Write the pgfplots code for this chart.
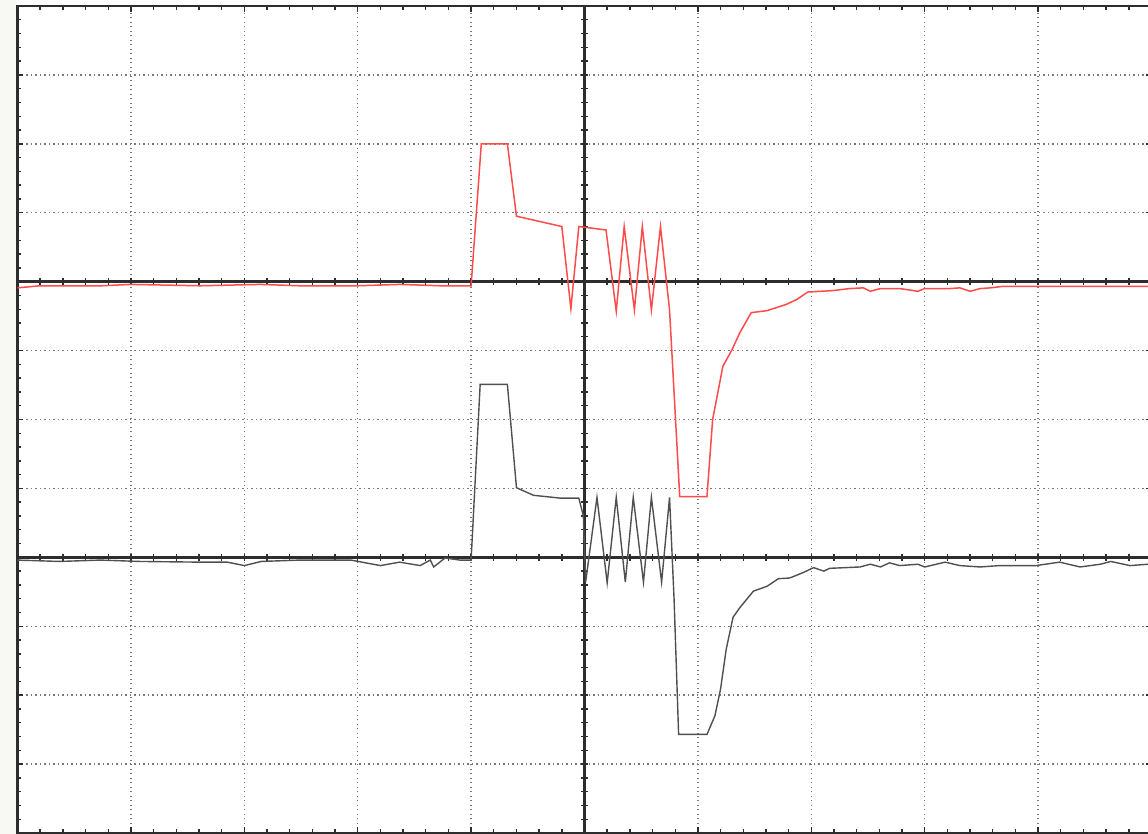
\documentclass[border=0pt]{standalone}
\usepackage{pgfplots}
\pgfplotsset{compat=1.18}
\definecolor{cream}{RGB}{249,249,244}
\definecolor{tracered}{RGB}{255,75,75}
\definecolor{tracegray}{RGB}{80,80,80}
\definecolor{frame}{RGB}{45,45,45}
\definecolor{gridc}{RGB}{120,120,120}

\pgfplotstableread{
x y
0.00 7.91
0.20 7.94
0.74 7.94
1.00 7.96
1.61 7.94
2.14 7.96
2.49 7.94
3.00 7.94
3.37 7.96
3.73 7.94
4.00 7.94
4.09 10.00
4.32 10.00
4.40 8.95
4.80 8.80
4.88 7.61
4.95 8.80
5.19 8.75
5.28 7.57
5.35 8.80
5.44 7.59
5.51 8.80
5.59 7.59
5.67 8.80
5.75 7.59
5.84 4.88
6.08 4.88
6.13 6.00
6.22 6.77
6.30 7.01
6.37 7.26
6.47 7.55
6.61 7.58
6.78 7.67
6.87 7.74
6.97 7.85
7.19 7.87
7.34 7.90
7.46 7.91
7.52 7.86
7.61 7.90
7.78 7.90
7.94 7.86
8.00 7.90
8.22 7.90
8.31 7.91
8.40 7.86
8.49 7.90
8.58 7.91
8.68 7.93
9.30 7.93
9.97 7.93
10.10 7.93
}\redtrace

\pgfplotstableread{
x y
0.00 3.96
0.37 3.94
0.73 3.96
1.08 3.94
1.61 3.93
1.85 3.93
2.00 3.88
2.15 3.94
2.49 3.96
2.94 3.96
3.20 3.88
3.37 3.93
3.55 3.88
3.64 3.96
3.67 3.86
3.77 3.99
3.90 3.96
4.00 3.96
4.08 6.51
4.32 6.51
4.40 5.01
4.55 4.90
4.78 4.86
4.95 4.86
4.99 4.60
5.01 3.64
5.11 4.87
5.20 3.63
5.28 4.87
5.36 3.64
5.43 4.87
5.52 3.64
5.59 4.87
5.68 3.64
5.75 4.87
5.79 3.39
5.83 1.43
6.08 1.43
6.15 1.70
6.20 2.09
6.25 2.67
6.31 3.13
6.37 3.27
6.49 3.51
6.61 3.58
6.71 3.69
6.81 3.70
6.93 3.78
7.02 3.85
7.11 3.80
7.16 3.84
7.43 3.86
7.52 3.90
7.61 3.86
7.69 3.92
7.78 3.88
7.94 3.90
8.00 3.86
8.18 3.93
8.31 3.88
8.49 3.86
8.66 3.88
8.98 3.88
9.19 3.93
9.37 3.86
9.55 3.90
9.64 3.94
9.81 3.88
9.97 3.90
10.10 3.90
}\graytrace

\begin{document}
\begin{tikzpicture}
\path[use as bounding box] (0,0) rectangle (574pt,417pt);
\clip (0,0) rectangle (574pt,417pt);
\fill[white] (0,0) rectangle (574pt,417pt);
\fill[cream] (0,0) rectangle (8.2pt,417pt);
\begin{axis}[
  at={(8.75pt,0.5pt)}, anchor=south west,
  scale only axis, width=567pt, height=413.5pt,
  xmin=0, xmax=10, ymin=0, ymax=12,
  xtick={0,...,10}, ytick={0,...,12},
  minor x tick num=4, minor y tick num=4,
  xticklabels={}, yticklabels={},
  tick align=inside,
  major tick length=2.8pt, minor tick length=1.8pt,
  tick style={frame, line width=0.7pt},
  grid=major,
  major grid style={gridc, line width=0.7pt, dash pattern=on 0.7pt off 1.55pt},
  axis line style={frame, line width=1.2pt},
  clip=true,
]
\draw[frame, line width=1.3pt] (axis cs:0,8) -- (axis cs:10,8);
\draw[frame, line width=1.3pt] (axis cs:0,4) -- (axis cs:10,4);
\draw[frame, line width=1.3pt] (axis cs:5,0) -- (axis cs:5,12);
\pgfplotsinvokeforeach{0,0.2,...,10}{
  \draw[frame, line width=0.7pt] (axis cs:#1,8) ++(0,-1.8pt) -- ++(0,3.6pt);
  \draw[frame, line width=0.7pt] (axis cs:#1,4) ++(0,-1.8pt) -- ++(0,3.6pt);
}
\pgfplotsinvokeforeach{0,0.2,...,12}{
  \draw[frame, line width=0.7pt] (axis cs:5,#1) ++(-1.8pt,0) -- ++(3.6pt,0);
}
\addplot[tracered, line width=0.75pt, no markers] table[x=x,y=y] {\redtrace};
\addplot[tracegray, line width=0.7pt, no markers] table[x=x,y=y] {\graytrace};
\end{axis}
\end{tikzpicture}
\end{document}
